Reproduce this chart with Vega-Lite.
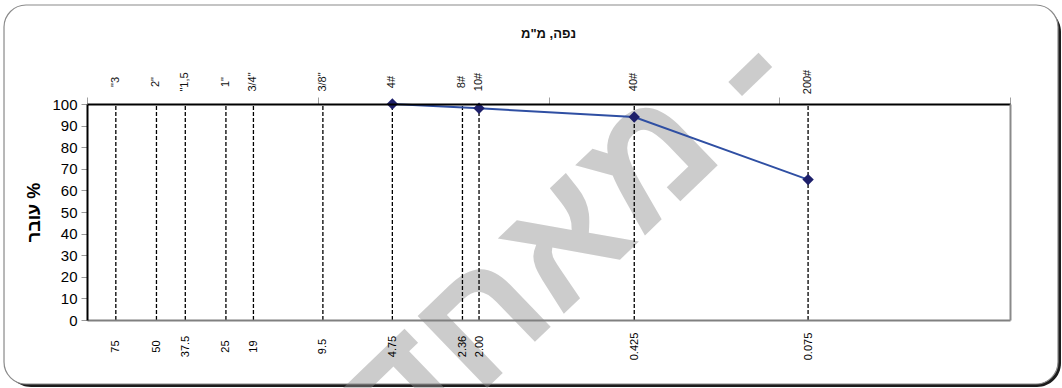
{
  "$schema": "https://vega.github.io/schema/vega-lite/v6.json",
  "width": 923,
  "height": 216,
  "autosize": {"type": "none"},
  "padding": {"left": 87, "top": 104, "right": 52, "bottom": 68},
  "background": "white",
  "config": {
    "view": {"stroke": null},
    "font": "Liberation Sans",
    "axis": {"labelFont": "Liberation Sans", "titleFont": "Liberation Sans"}
  },
  "title": {
    "text": "נפה, מ\"מ",
    "fontSize": 13,
    "fontWeight": "bold",
    "color": "#111111",
    "anchor": "middle",
    "offset": -50,
    "font": "Liberation Sans"
  },
  "datasets": {
    "sieves": [
      {"size": 75, "sieve": "\"3"},
      {"size": 50, "sieve": "2\""},
      {"size": 37.5, "sieve": "\"1,5"},
      {"size": 25, "sieve": "1\""},
      {"size": 19, "sieve": "3/4\""},
      {"size": 9.5, "sieve": "3/8\""},
      {"size": 4.75, "sieve": "4#"},
      {"size": 2.36, "sieve": "8#"},
      {"size": 2.0, "sieve": "10#"},
      {"size": 0.425, "sieve": "40#"},
      {"size": 0.075, "sieve": "200#"}
    ],
    "test": [
      {"size": 4.75, "pass": 100},
      {"size": 2.0, "pass": 98},
      {"size": 0.425, "pass": 94},
      {"size": 0.075, "pass": 65}
    ],
    "one": [{}]
  },
  "layer": [
    {
      "data": {"name": "one"},
      "mark": {"type": "rect", "fill": "#1c1c1c", "cornerRadius": 24},
      "encoding": {
        "x": {"datum": 222.2, "type": "quantitative", "scale": {"type": "log", "domain": [0.01, 100], "reverse": true}, "axis": null},
        "x2": {"datum": 0.006012},
        "y": {"datum": 144.44, "type": "quantitative", "scale": {"domain": [0, 100], "nice": false, "zero": false}, "axis": null},
        "y2": {"datum": -31.02}
      }
    },
    {
      "data": {"name": "one"},
      "mark": {"type": "rect", "fill": "white", "stroke": "#8a8a8a", "strokeWidth": 1.2, "cornerRadius": 22},
      "encoding": {
        "x": {"datum": 228.9, "type": "quantitative", "scale": {"type": "log", "domain": [0.01, 100], "reverse": true}, "axis": null},
        "x2": {"datum": 0.006194},
        "y": {"datum": 145.83, "type": "quantitative", "scale": {"domain": [0, 100], "nice": false, "zero": false}, "axis": null},
        "y2": {"datum": -29.63}
      }
    },
    {
      "data": {"name": "one"},
      "mark": {"type": "text", "angle": 316, "align": "right", "baseline": "middle", "fontSize": 165, "fontWeight": "bold", "font": "Liberation Sans", "fill": "#8f8f8f", "opacity": 0.45},
      "encoding": {
        "x": {"datum": 0.11525, "type": "quantitative", "scale": {"type": "log", "domain": [0.01, 100], "reverse": true}, "axis": null},
        "y": {"datum": 125.0, "type": "quantitative", "scale": {"domain": [0, 100], "nice": false, "zero": false}, "axis": null},
        "text": {"value": "מאחד -"}
      }
    },
    {
      "data": {"name": "sieves"},
      "mark": {"type": "rule", "color": "#000000", "strokeWidth": 1.3, "strokeDash": [4, 2]},
      "encoding": {
        "x": {
          "field": "size", "type": "quantitative",
          "scale": {"type": "log", "domain": [0.01, 100], "reverse": true},
          "axis": {"orient": "top", "zindex": 1, "values": [100, 10, 1, 0.1, 0.01], "labels": false, "tickSize": 7, "tickColor": "#a0a0a0", "tickWidth": 1, "domainColor": "#000000", "domainWidth": 2, "grid": false, "title": null}
        },
        "y": {"datum": 0, "type": "quantitative", "scale": {"domain": [0, 100], "nice": false, "zero": false}, "axis": null},
        "y2": {"datum": 100}
      }
    },
    {
      "data": {"name": "sieves"},
      "mark": {"type": "text", "angle": 270, "align": "center", "baseline": "middle", "dx": 22, "fontSize": 11, "font": "Liberation Sans", "color": "#111111"},
      "encoding": {
        "x": {"field": "size", "type": "quantitative", "scale": {"type": "log", "domain": [0.01, 100], "reverse": true}, "axis": null},
        "y": {"datum": 100, "type": "quantitative", "scale": {"domain": [0, 100], "nice": false, "zero": false}, "axis": null},
        "text": {"field": "sieve"}
      }
    },
    {
      "data": {"name": "test"},
      "mark": {"type": "line", "color": "#2f4fa3", "strokeWidth": 2},
      "encoding": {
        "x": {
          "field": "size", "type": "quantitative",
          "scale": {"type": "log", "domain": [0.01, 100], "reverse": true},
          "axis": {"orient": "bottom", "zindex": 1, "values": [75, 50, 37.5, 25, 19, 9.5, 4.75, 2.36, 2, 0.425, 0.075], "labelExpr": "datum.value == 2 ? '2.00' : format(datum.value, '~g')", "labelAngle": 270, "labelAlign": "center", "labelBaseline": "middle", "labelPadding": 26, "labelFontSize": 11, "labelColor": "#000000", "labelOverlap": false, "labelFlush": false, "ticks": false, "grid": false, "domainColor": "#808080", "domainWidth": 2, "title": null}
        },
        "y": {
          "field": "pass", "type": "quantitative",
          "scale": {"domain": [0, 100], "nice": false, "zero": false},
          "axis": {"orient": "left", "zindex": 1, "values": [0, 10, 20, 30, 40, 50, 60, 70, 80, 90, 100], "labelFontSize": 15, "labelColor": "#000000", "tickColor": "#9a9a9a", "tickSize": 6, "labelPadding": 4, "domainColor": "#000000", "domainWidth": 2, "gridColor": "#a6a6a6", "gridWidth": 1, "title": "עובר %", "titleFontSize": 18, "titleFontWeight": "bold", "titleColor": "#000000", "titlePadding": 8}
        }
      }
    },
    {
      "data": {"name": "test"},
      "mark": {"type": "point", "shape": "diamond", "filled": true, "color": "#1e206b", "size": 130, "opacity": 1},
      "encoding": {
        "x": {"field": "size", "type": "quantitative", "scale": {"type": "log", "domain": [0.01, 100], "reverse": true}, "axis": null},
        "y": {
          "field": "pass", "type": "quantitative",
          "scale": {"domain": [0, 100], "nice": false, "zero": false},
          "axis": {"orient": "right", "zindex": 1, "labels": false, "ticks": false, "grid": false, "domainColor": "#8a8a8a", "domainWidth": 2, "title": null}
        }
      }
    }
  ]
}
